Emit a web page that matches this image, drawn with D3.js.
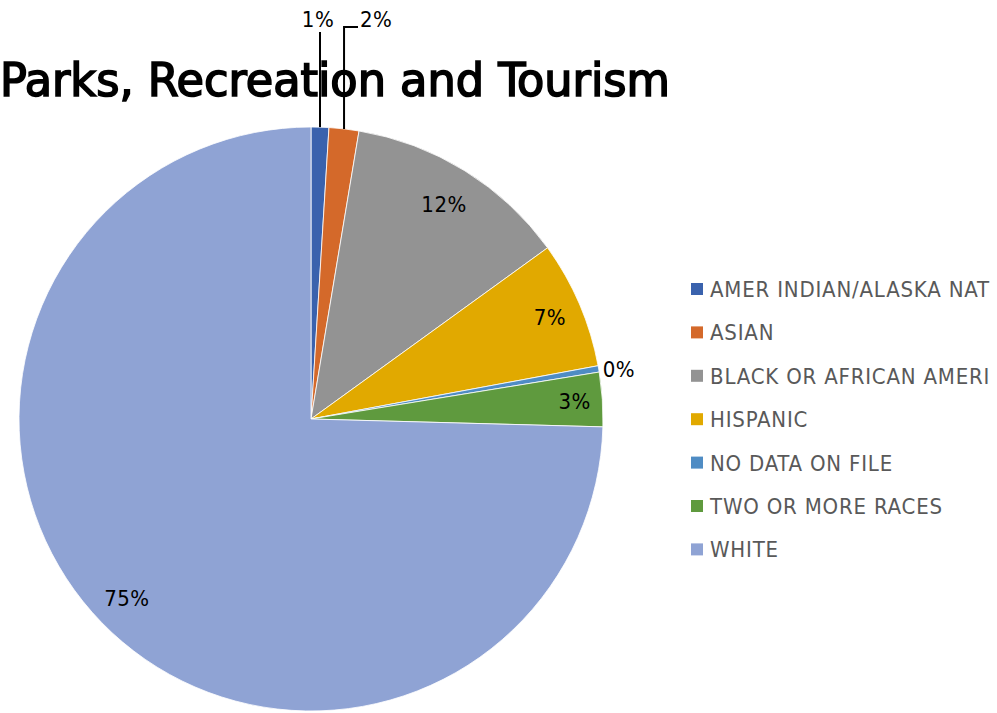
<!DOCTYPE html>
<html>
  <head>
    <meta http-equiv="Content-Type" content="text/html;charset=utf-8">
    <script src="https://d3js.org/d3.v7.min.js"></script>
    <style>
      body { margin: 0; background: #fff; }
    </style>
  </head>
  <body>
    <svg id="chart" width="997" height="713"></svg>
    <script type="text/javascript">

var categories = ["AMER INDIAN/ALASKA NAT", "ASIAN", "BLACK OR AFRICAN AMERI", "HISPANIC",
                  "NO DATA ON FILE", "TWO OR MORE RACES", "WHITE"];
var values = [0.98, 1.65, 12.4, 7.05, 0.35, 3.0, 74.57];
var labels = ["1%", "2%", "12%", "7%", "0%", "3%", "75%"];
var colors = ["#3a62ad", "#d4692a", "#939393", "#e1a900", "#4f8cc4", "#5f9a3e", "#8fa3d4"];

var svg = d3.select("#chart");
var cx = 311, cy = 419, r = 292;
var font = "'DejaVu Sans Condensed', 'Liberation Sans Narrow', sans-serif";

var pie = d3.pie().sort(null).value(function(d) { return d; });
var arcs = pie(values);
var arc = d3.arc().innerRadius(0).outerRadius(r);

var g = svg.append("g").attr("transform", "translate(" + cx + "," + cy + ")");

g.selectAll("path.slice")
    .data(arcs)
  .enter().append("path")
    .attr("class", "slice")
    .attr("d", arc)
    .style("fill", function(d, i) { return colors[i]; })
    .style("stroke", "#fff")
    .style("stroke-width", 0.8);

// title
svg.append("text")
    .attr("x", 670)
    .attr("y", 96)
    .attr("text-anchor", "end")
    .attr("textLength", 670)
    .attr("lengthAdjust", "spacingAndGlyphs")
    .style("font-family", font)
    .style("font-size", "47px")
    .style("fill", "#000")
    .style("stroke", "#000")
    .style("stroke-width", 1.6)
    .text("Parks, Recreation and Tourism");

function mid(d) { return (d.startAngle + d.endAngle) / 2; }
function polar(a, rad) { return [Math.sin(a) * rad, -Math.cos(a) * rad]; }

var labelStyle = function(sel) {
  sel.style("font-family", font)
     .style("font-size", "22px")
     .style("letter-spacing", "0.5px")
     .style("fill", "#000");
};

// inside labels
var inside = [2, 3, 5, 6];
var insideR = { 2: 0.865, 3: 0.89, 5: 0.905, 6: 0.88 };
inside.forEach(function(i) {
  var p = polar(mid(arcs[i]), r * insideR[i]);
  g.append("text")
      .attr("x", p[0])
      .attr("y", p[1])
      .attr("dy", "0.36em")
      .attr("text-anchor", "middle")
      .call(labelStyle)
      .text(labels[i]);
});

// 1% leader
var p0 = polar(mid(arcs[0]), r);
g.append("path")
    .attr("d", "M" + p0[0] + "," + p0[1] + "V" + (32 - cy))
    .style("stroke", "#000").style("stroke-width", 2).style("fill", "none");
g.append("text")
    .attr("x", p0[0] - 2).attr("y", 27 - cy)
    .attr("text-anchor", "middle")
    .call(labelStyle)
    .text(labels[0]);

// 2% leader
var p1 = polar(mid(arcs[1]), r);
g.append("path")
    .attr("d", "M" + p1[0] + "," + p1[1] + "V" + (27 - cy) + "H" + (358 - cx))
    .style("stroke", "#000").style("stroke-width", 2).style("fill", "none");
g.append("text")
    .attr("x", 360 - cx).attr("y", 27 - cy)
    .attr("text-anchor", "start")
    .call(labelStyle)
    .text(labels[1]);

// 0% label outside
var p4 = polar(mid(arcs[4]), r);
g.append("text")
    .attr("x", p4[0] + 4).attr("y", p4[1])
    .attr("dy", "0.36em")
    .attr("text-anchor", "start")
    .call(labelStyle)
    .text(labels[4]);

// legend
var legend = svg.append("g").attr("transform", "translate(691,289)");
var row = legend.selectAll("g.item")
    .data(categories)
  .enter().append("g")
    .attr("class", "item")
    .attr("transform", function(d, i) { return "translate(0," + (i * 43.4) + ")"; });
row.append("rect")
    .attr("x", 0).attr("y", -6)
    .attr("width", 12).attr("height", 12)
    .style("fill", function(d, i) { return colors[i]; });
row.append("text")
    .attr("x", 19).attr("y", 0)
    .attr("dy", "0.36em")
    .style("font-family", font)
    .style("font-size", "22px")
    .style("letter-spacing", "0.8px")
    .style("fill", "#595959")
    .text(function(d) { return d; });

    </script>
  </body>
</html>
